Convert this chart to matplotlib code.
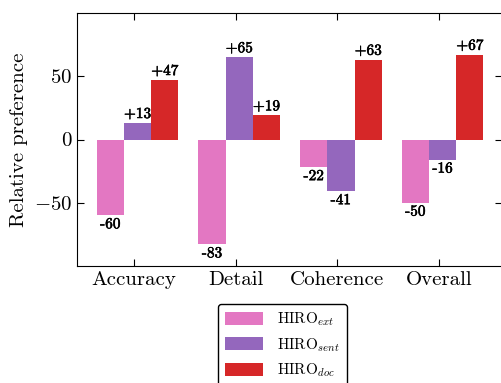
import matplotlib
matplotlib.use('Agg')
import matplotlib.pyplot as plt
import matplotlib.patheffects as pe
import numpy as np

plt.rcParams['font.family'] = 'serif'
plt.rcParams['font.serif'] = ['cmr10']
plt.rcParams['mathtext.fontset'] = 'cm'
plt.rcParams['axes.formatter.use_mathtext'] = True

categories = ['Accuracy', 'Detail', 'Coherence', 'Overall']
hiro_ext = [-60, -83, -22, -50]
hiro_sent = [13, 65, -41, -16]
hiro_doc = [47, 19, 63, 67]
series_labels = [r'HIRO$_{ext}$', r'HIRO$_{sent}$', r'HIRO$_{doc}$']
colors = ['#e377c2', '#9467bd', '#d62728']

fig = plt.figure(figsize=(5.01, 3.83), dpi=100)
ax = fig.add_axes([77 / 501, 117 / 383, 425 / 501, 253 / 383])

x = np.arange(len(categories))
width = 0.268
offsets = [-0.232, 0.036, 0.304]
bold = [pe.withStroke(linewidth=0.4, foreground='black')]
for vals, off, col, lab in zip([hiro_ext, hiro_sent, hiro_doc], offsets, colors, series_labels):
    bars = ax.bar(x + off, vals, width, color=col, label=lab)
    for b, v in zip(bars, vals):
        cx = b.get_x() + b.get_width() / 2
        if v >= 0:
            ax.annotate('+%d' % v, (cx, v), xytext=(0, 1.5), textcoords='offset points',
                        ha='center', va='bottom', fontsize=11, path_effects=bold)
        else:
            ax.annotate('-%d' % abs(v), (cx, v), xytext=(0, -1.5), textcoords='offset points',
                        ha='center', va='top', fontsize=11, path_effects=bold)

ax.set_xticks(x)
ax.set_xticklabels(categories)
ax.set_yticks([-50, 0, 50])
ax.set_xlim(-0.56, 3.62)
ax.set_ylim(-100, 100)
ax.set_ylabel('Relative preference', fontsize=15)
ax.tick_params(axis='both', which='both', direction='in', top=True, right=True, labelsize=15, length=5)

fig.legend(loc='upper center', bbox_to_anchor=(282.5 / 501, 1 - 304 / 383), fontsize=11,
           frameon=True, edgecolor='black', framealpha=1, handlelength=2.5, handleheight=0.95,
           handletextpad=0.9, labelspacing=0.5, borderpad=0.45, borderaxespad=0)

fig.savefig('out.png', dpi=100)
